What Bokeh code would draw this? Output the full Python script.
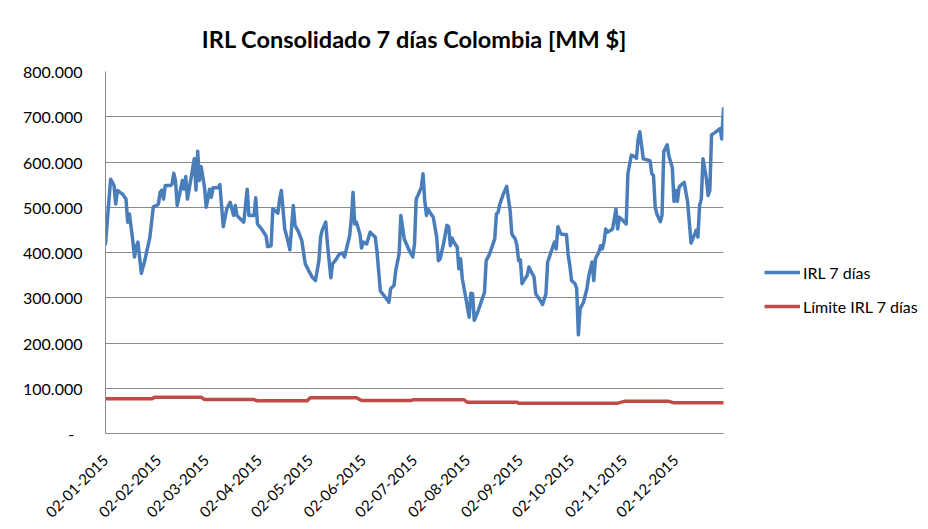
import pandas as pd
from math import pi
from bokeh.plotting import figure
from bokeh.layouts import row
from bokeh.models import (FixedTicker, CustomJSTickFormatter, Legend, LegendItem,
                          Range1d)
from bokeh.embed import file_html
from bokeh.resources import INLINE

title_text = "IRL Consolidado 7 días Colombia [MM $]"
series_names = ["IRL 7 días", "Límite IRL 7 días"]

irl_dates = [
    "2015-01-02", "2015-01-05", "2015-01-07", "2015-01-08", "2015-01-09", "2015-01-12", "2015-01-14",
    "2015-01-15", "2015-01-16", "2015-01-18", "2015-01-19", "2015-01-20", "2015-01-21", "2015-01-23",
    "2015-01-25", "2015-01-28", "2015-01-30", "2015-02-01", "2015-02-02", "2015-02-03", "2015-02-04",
    "2015-02-05", "2015-02-06", "2015-02-09", "2015-02-10", "2015-02-11", "2015-02-12", "2015-02-13",
    "2015-02-15", "2015-02-16", "2015-02-17", "2015-02-18", "2015-02-19", "2015-02-21", "2015-02-23",
    "2015-02-24", "2015-02-25", "2015-02-26", "2015-02-27", "2015-03-01", "2015-03-02", "2015-03-04",
    "2015-03-05", "2015-03-06", "2015-03-09", "2015-03-10", "2015-03-12", "2015-03-14", "2015-03-16",
    "2015-03-18", "2015-03-19", "2015-03-20", "2015-03-22", "2015-03-24", "2015-03-26", "2015-03-27",
    "2015-03-30", "2015-03-31", "2015-04-01", "2015-04-03", "2015-04-06", "2015-04-07", "2015-04-09",
    "2015-04-10", "2015-04-11", "2015-04-13", "2015-04-14", "2015-04-15", "2015-04-17", "2015-04-19",
    "2015-04-20", "2015-04-22", "2015-04-23", "2015-04-25", "2015-04-27", "2015-04-29", "2015-05-01",
    "2015-05-03", "2015-05-05", "2015-05-07", "2015-05-08", "2015-05-09", "2015-05-11", "2015-05-12",
    "2015-05-14", "2015-05-15", "2015-05-17", "2015-05-19", "2015-05-21", "2015-05-22", "2015-05-25",
    "2015-05-26", "2015-05-27", "2015-05-28", "2015-05-29", "2015-05-31", "2015-06-01", "2015-06-02",
    "2015-06-04", "2015-06-06", "2015-06-07", "2015-06-09", "2015-06-10", "2015-06-12", "2015-06-13",
    "2015-06-15", "2015-06-17", "2015-06-18", "2015-06-20", "2015-06-21", "2015-06-23", "2015-06-24",
    "2015-06-26", "2015-06-27", "2015-06-29", "2015-07-01", "2015-07-02", "2015-07-03", "2015-07-04",
    "2015-07-06", "2015-07-07", "2015-07-08", "2015-07-09", "2015-07-10", "2015-07-11", "2015-07-13",
    "2015-07-15", "2015-07-16", "2015-07-17", "2015-07-19", "2015-07-21", "2015-07-22", "2015-07-23",
    "2015-07-24", "2015-07-25", "2015-07-27", "2015-07-28", "2015-07-29", "2015-07-30", "2015-08-01",
    "2015-08-03", "2015-08-04", "2015-08-05", "2015-08-06", "2015-08-08", "2015-08-10", "2015-08-12",
    "2015-08-13", "2015-08-15", "2015-08-17", "2015-08-18", "2015-08-19", "2015-08-20", "2015-08-21",
    "2015-08-23", "2015-08-25", "2015-08-27", "2015-08-28", "2015-08-30", "2015-08-31", "2015-09-01",
    "2015-09-02", "2015-09-03", "2015-09-04", "2015-09-06", "2015-09-07", "2015-09-09", "2015-09-10",
    "2015-09-11", "2015-09-13", "2015-09-15", "2015-09-17", "2015-09-18", "2015-09-19", "2015-09-20",
    "2015-09-22", "2015-09-23", "2015-09-24", "2015-09-25", "2015-09-26", "2015-09-27", "2015-09-29",
    "2015-09-30", "2015-10-01", "2015-10-02", "2015-10-04", "2015-10-05", "2015-10-06", "2015-10-07",
    "2015-10-09", "2015-10-11", "2015-10-12", "2015-10-14", "2015-10-15", "2015-10-16", "2015-10-18",
    "2015-10-19", "2015-10-20", "2015-10-21", "2015-10-22", "2015-10-23", "2015-10-25", "2015-10-26",
    "2015-10-28", "2015-10-29", "2015-10-30", "2015-11-01", "2015-11-03", "2015-11-04", "2015-11-06",
    "2015-11-08", "2015-11-09", "2015-11-10", "2015-11-11", "2015-11-13", "2015-11-15", "2015-11-17",
    "2015-11-18", "2015-11-19", "2015-11-20", "2015-11-21", "2015-11-23", "2015-11-24", "2015-11-25",
    "2015-11-27", "2015-11-28", "2015-11-30", "2015-12-01", "2015-12-02", "2015-12-03", "2015-12-04",
    "2015-12-05", "2015-12-07", "2015-12-09", "2015-12-11", "2015-12-12", "2015-12-14", "2015-12-15",
    "2015-12-16", "2015-12-17", "2015-12-18", "2015-12-20", "2015-12-21", "2015-12-22", "2015-12-23",
    "2015-12-25", "2015-12-27", "2015-12-28", "2015-12-29", "2015-12-30",
]

irl_values = [
    419, 562, 548, 507, 537, 529, 518,
    467, 485, 426, 390, 412, 423, 354,
    382, 434, 501, 504, 507, 533, 538,
    518, 548, 548, 551, 575, 559, 504,
    540, 559, 540, 568, 518, 562, 607,
    538, 624, 559, 590, 544, 500, 540,
    522, 543, 543, 550, 457, 496, 511,
    482, 504, 482, 474, 467, 540, 482,
    482, 521, 463, 454, 437, 413, 415,
    496, 494, 487, 518, 537, 452, 423,
    406, 504, 460, 446, 426, 375, 360,
    346, 338, 382, 434, 450, 467, 419,
    344, 375, 384, 397, 399, 390, 437,
    474, 533, 463, 467, 441, 410, 423,
    419, 445, 441, 434, 404, 315, 310,
    301, 290, 320, 327, 360, 397, 482,
    430, 421, 404, 390, 419, 518, 526,
    544, 574, 515, 482, 496, 489, 478,
    434, 382, 386, 419, 460, 457, 415,
    432, 423, 412, 364, 386, 342, 301,
    257, 310, 309, 250, 268, 290, 312,
    382, 397, 419, 430, 485, 489, 507,
    529, 546, 493, 441, 430, 415, 382,
    384, 331, 338, 349, 368, 353, 346,
    309, 298, 285, 309, 379, 390, 401,
    423, 408, 457, 447, 441, 440, 440,
    395, 371, 338, 331, 321, 218, 276,
    290, 320, 346, 379, 338, 386, 401,
    415, 408, 423, 452, 445, 449, 452,
    496, 452, 478, 471, 463, 574, 615,
    612, 608, 651, 667, 607, 605, 603,
    574, 570, 500, 485, 468, 482, 623,
    638, 614, 588, 513, 537, 513, 544,
    549, 555, 511, 421, 430, 449, 434,
    504, 518, 607, 563, 526, 537, 660,
    665, 671, 674, 651, 718,
]

limit_dates = [
    "2015-01-02", "2015-01-29", "2015-01-31", "2015-02-27", "2015-03-01", "2015-03-30",
    "2015-04-01", "2015-04-30", "2015-05-02", "2015-05-29", "2015-06-01", "2015-06-30",
    "2015-07-01", "2015-07-31", "2015-08-02", "2015-08-31", "2015-09-01", "2015-10-29",
    "2015-11-02", "2015-11-28", "2015-12-01", "2015-12-30",
]
limit_values = [
    76.7, 76.7, 80.2, 80.2, 75.1, 75.1,
    72.2, 72.2, 79.0, 79.0, 72.9, 72.9,
    74.4, 74.4, 69.2, 69.2, 67.0, 67.0,
    71.0, 71.0, 67.8, 67.8,
]

y_ticks = [0, 100, 200, 300, 400, 500, 600, 700, 800]
y_tick_labels = ["-", "100.000", "200.000", "300.000", "400.000", "500.000",
                 "600.000", "700.000", "800.000"]
x_tick_labels = ["02-01-2015", "02-02-2015", "02-03-2015", "02-04-2015", "02-05-2015",
                 "02-06-2015", "02-07-2015", "02-08-2015", "02-09-2015", "02-10-2015",
                 "02-11-2015", "02-12-2015"]

FONT = "Lato"
GRID = "#8a8a8a"
BLUE = "#4A7EBB"
RED = "#BE4B48"
LW = 3.5

irl_x = pd.to_datetime(irl_dates)
lim_x = pd.to_datetime(limit_dates)
x_ticks = pd.to_datetime(x_tick_labels, format="%d-%m-%Y")
x_tick_ms = [float(t.value // 10**6) for t in x_ticks]

# ---------------- main chart ----------------
p = figure(width=740, height=529, x_axis_type="datetime",
           output_backend="svg", toolbar_location=None,
           x_range=Range1d(irl_x[0], irl_x[-1]), y_range=Range1d(0, 800),
           min_border_left=105, min_border_right=17, min_border_top=71,
           min_border_bottom=96)
p.background_fill_color = "white"
p.border_fill_color = "white"
p.outline_line_color = None

p.line(irl_x, irl_values, line_color=BLUE, line_width=LW,
       line_join="round", line_cap="round")
p.line(lim_x, limit_values, line_color=RED, line_width=LW,
       line_join="round", line_cap="round")

p.title.text = title_text
p.title.align = "center"
p.title.text_font = FONT
p.title.text_font_style = "bold"
p.title.text_font_size = "23.5px"
p.title.text_color = "black"
p.title.standoff = 38

p.xgrid.visible = False
p.ygrid.grid_line_color = GRID
p.ygrid.grid_line_width = 1
p.ygrid.ticker = FixedTicker(ticks=y_ticks)

overrides = {}
for t, lab in zip(y_ticks, y_tick_labels):
    overrides[t] = lab + ("\u00a0\u00a0" if lab == "-" else "")
p.yaxis.ticker = FixedTicker(ticks=y_ticks)
p.yaxis.major_label_overrides = overrides

p.xaxis.ticker = FixedTicker(ticks=x_tick_ms)
p.xaxis.formatter = CustomJSTickFormatter(
    args=dict(tick_ms=x_tick_ms, tick_labels=x_tick_labels),
    code="""
    let best = -1, bd = 1e15;
    for (let i = 0; i < tick_ms.length; i++) {
        const d = Math.abs(tick_ms[i] - tick);
        if (d < bd) { bd = d; best = i; }
    }
    return (best >= 0 && bd < 86400000) ? tick_labels[best] : "";
    """)
p.xaxis.major_label_orientation = pi / 4

for ax in (p.xaxis[0], p.yaxis[0]):
    ax.axis_line_color = GRID
    ax.axis_line_width = 1
    ax.major_tick_out = 0
    ax.major_tick_in = 0
    ax.minor_tick_out = 0
    ax.minor_tick_in = 0
    ax.major_label_text_font = FONT
    ax.major_label_text_color = "black"
p.yaxis.major_label_text_font_size = "16px"
p.xaxis.major_label_text_font_size = "15px"
p.yaxis.major_label_standoff = 23
p.xaxis.major_label_standoff = 24

# ---------------- legend panel ----------------
q = figure(width=188, height=529, output_backend="svg", toolbar_location=None,
           x_axis_location=None, y_axis_location=None,
           x_range=Range1d(0, 1), y_range=Range1d(0, 1),
           min_border_left=0, min_border_right=0, min_border_top=0,
           min_border_bottom=0)
q.outline_line_color = None
q.grid.visible = False
q.background_fill_color = "white"
q.border_fill_color = "white"
# legend proxies: the same series, outside this panel's visible range
l1 = q.line(irl_x, irl_values, line_color=BLUE, line_width=LW)
l2 = q.line(lim_x, limit_values, line_color=RED, line_width=LW)

legend = Legend(items=[LegendItem(label=series_names[0], renderers=[l1]),
                       LegendItem(label=series_names[1], renderers=[l2])],
                location=(24, 117), orientation="vertical",
                border_line_color=None, background_fill_alpha=0,
                padding=0, margin=0, spacing=14,
                glyph_width=36, glyph_height=20, label_height=20,
                label_standoff=3, label_text_font=FONT,
                label_text_font_size="16px", label_text_color="black")
q.add_layout(legend)

layout = row(p, q, spacing=0)
open("out.html", "w").write(file_html(layout, INLINE))
